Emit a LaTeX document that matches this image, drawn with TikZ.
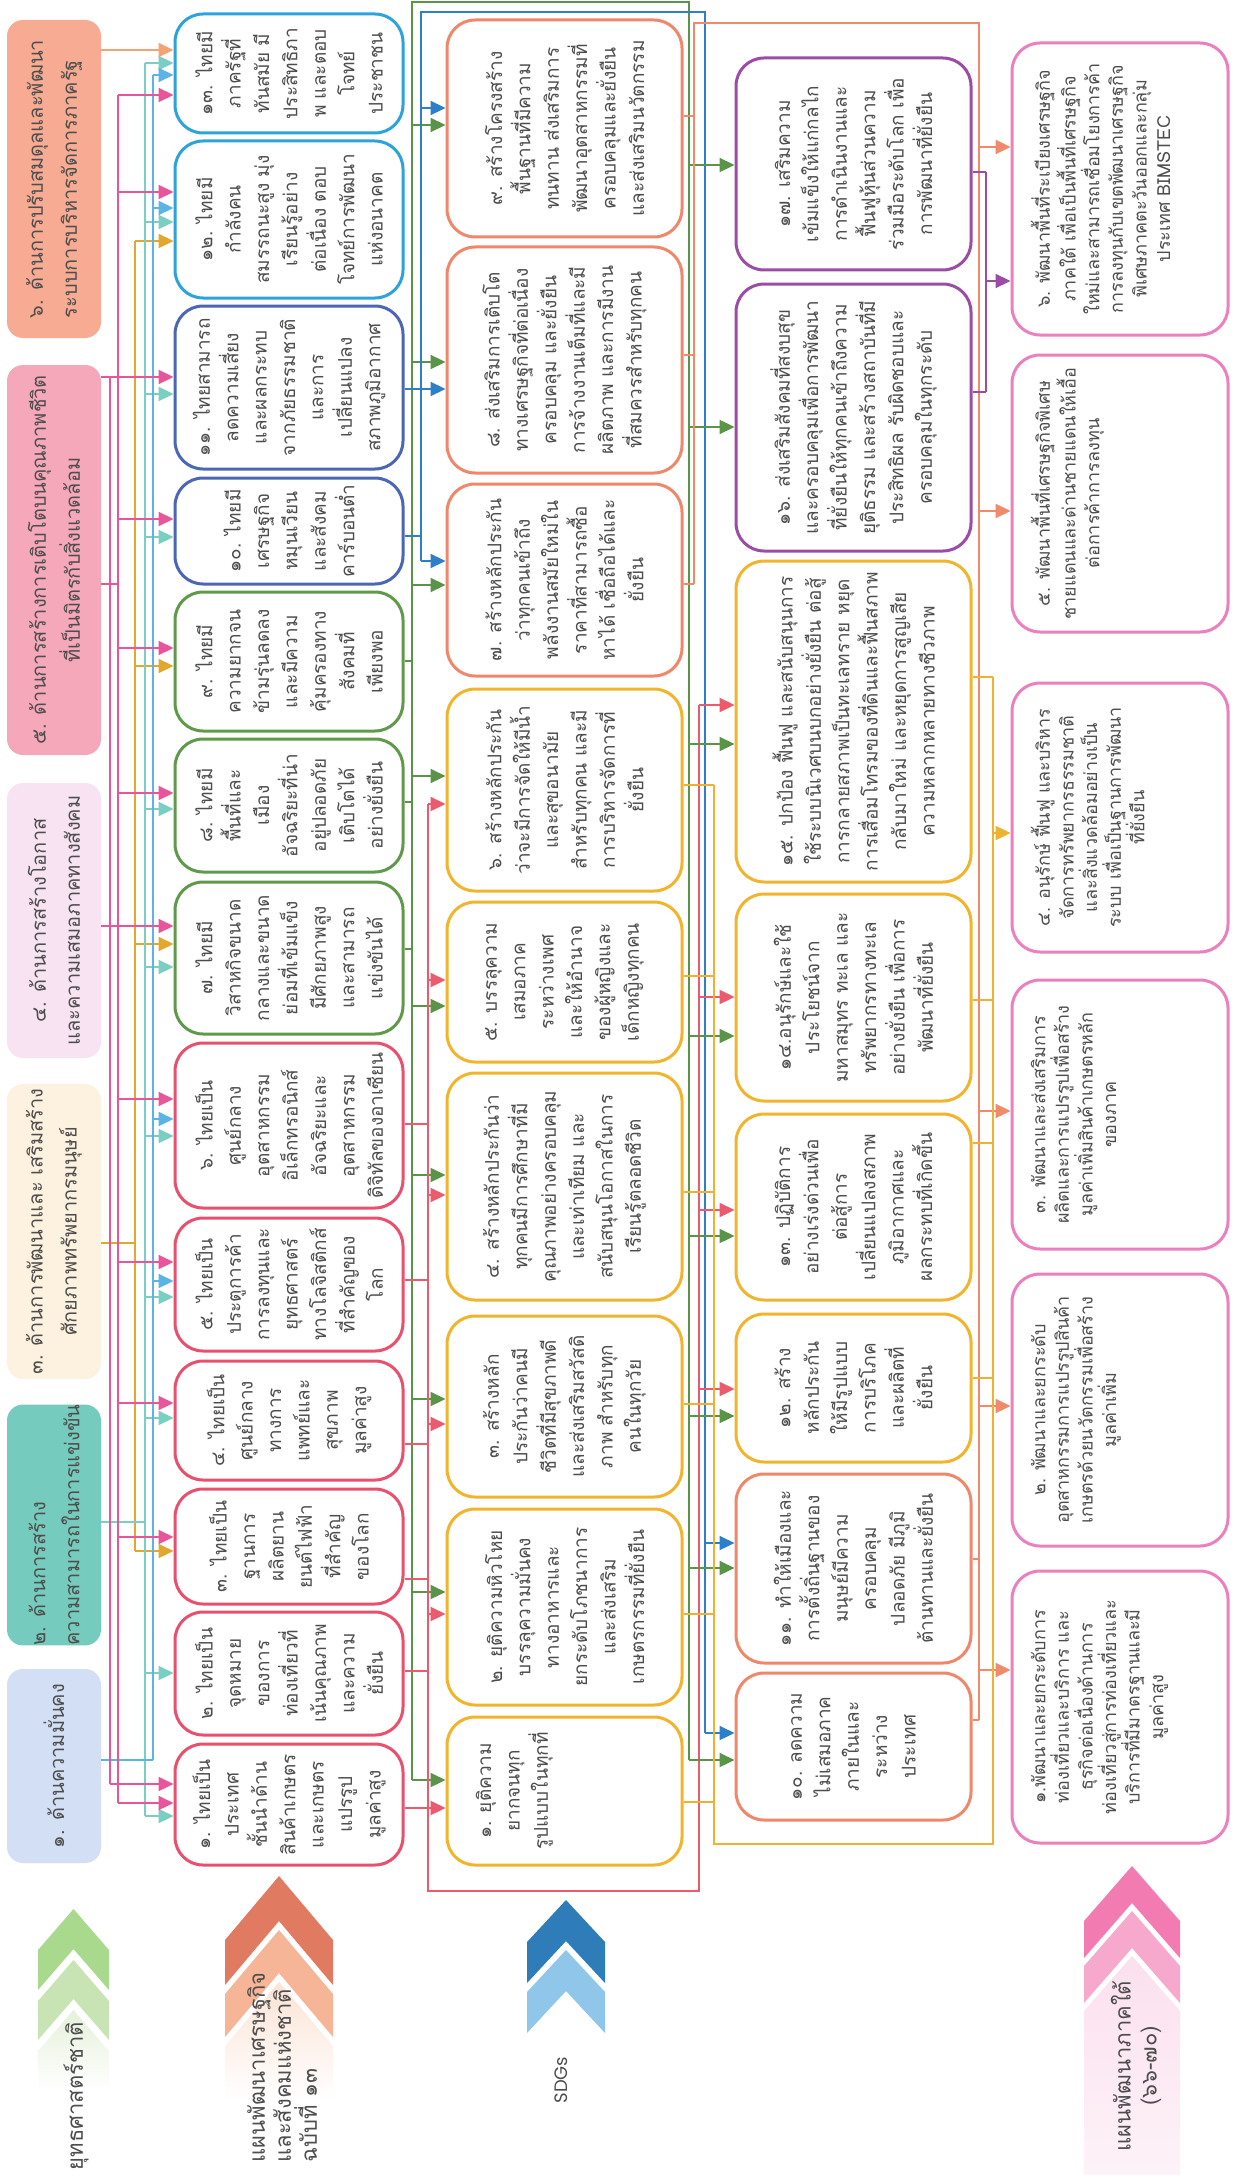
\documentclass[tikz,border=0pt]{standalone}
\usepackage{fontspec}
\setmainfont[Script=Thai]{Loma}
\newfontfamily\latf{Poppins}
\usetikzlibrary{arrows.meta,calc}
\definecolor{txt}{HTML}{4D4D4D}
\definecolor{fS6}{HTML}{F7AB92}
\definecolor{fS5}{HTML}{F5A8BA}
\definecolor{fS4}{HTML}{F8E3F3}
\definecolor{fS3}{HTML}{FDF2DF}
\definecolor{fS2}{HTML}{75CBBD}
\definecolor{fS1}{HTML}{D3DFF5}
\definecolor{bCy}{HTML}{2CA3DB}
\definecolor{bIn}{HTML}{4A66B5}
\definecolor{bGr}{HTML}{5E9A4A}
\definecolor{bRd}{HTML}{E8506E}
\definecolor{bCo}{HTML}{F0876A}
\definecolor{bYe}{HTML}{F2B42A}
\definecolor{bPu}{HTML}{9B4DA6}
\definecolor{bPk}{HTML}{EC7FBD}
\definecolor{lOr}{HTML}{F4A472}
\definecolor{lYe}{HTML}{E4A72E}
\definecolor{lTe}{HTML}{79D0C2}
\definecolor{lLb}{HTML}{5AB4E6}
\definecolor{lPk}{HTML}{E9559A}
\definecolor{lGr}{HTML}{5A9448}
\definecolor{lBl}{HTML}{2E7FC9}
\definecolor{lRd}{HTML}{EC5A6E}
\definecolor{lCo}{HTML}{F08A6A}
\definecolor{lYb}{HTML}{F0B030}
\definecolor{lPu}{HTML}{9B4DA6}
\definecolor{gc1}{HTML}{A9D98C}
\definecolor{gc2}{HTML}{C8E4B4}
\definecolor{gc3}{HTML}{E5F1DB}
\definecolor{oc1}{HTML}{E07B62}
\definecolor{oc2}{HTML}{F6B596}
\definecolor{oc3}{HTML}{FBE3D6}
\definecolor{bc1}{HTML}{2E7DB8}
\definecolor{bc2}{HTML}{8FC6EA}
\definecolor{pc1}{HTML}{F27CB2}
\definecolor{pc2}{HTML}{F6A8CD}
\definecolor{pc3}{HTML}{FBE0EE}
% box: name, style, x1, y1, x2, y2, text
\newcommand\Bx[7]{\node[#2, rotate=90, minimum width={0.5pt*(#6-#4)}, minimum height={0.5pt*(#5-#3)}] (#1) at ({(#3+#5)/2},{(#4+#6)/2}) {#7};}
% arrow from bus x at y into left side of node
\newcommand\Ar[4]{\draw[ar,#1] (#2,#3) -- (#2,#3 -| #4.north);}
% stub from right side of node at y to bus x
\newcommand\St[4]{\draw[ln,#1] (#4.south |- 0,#3) -- (#2,#3);}
% chevron: colour, xl, xr, tip, shoulder, bottom, notch
\newcommand\Chev[7]{\fill[#1] ({(#2+#3)/2},#4) -- (#3,#5) -- (#3,#6) -- ({(#2+#3)/2},#7) -- (#2,#6) -- (#2,#5) -- cycle;}
\begin{document}
\begin{tikzpicture}[x=0.5pt,y=-0.5pt,
  sbox/.style={fill=#1, rounded corners=8pt, inner sep=0pt, text=txt, align=center, font=\fontsize{10}{17}\selectfont},
  nb/.style={draw=#1, line width=1.5pt, fill=white, rounded corners=14pt, inner sep=0pt, text=txt, align=center, font=\fontsize{9.5}{14.2}\selectfont},
  ntxt/.style={text=txt, align=center, inner sep=0pt, font=\fontsize{9.5}{14.2}\selectfont},
  pb/.style={draw=bPk, line width=1.5pt, fill=white, rounded corners=14pt, inner sep=0pt},
  ptxt/.style={text=txt, align=center, inner sep=0pt, font=\fontsize{9}{11.8}\selectfont},
  ln/.style={line width=1.1pt},
  ar/.style={line width=1.1pt, -{Triangle[length=7.5pt,width=7pt]}},
  lab/.style={text=txt, inner sep=0pt, font=\fontsize{11}{13}\selectfont}]
\fill[white] (0,0) rectangle (1247,2178);
\useasboundingbox (0,0) rectangle (1247,2178);

% ---------- column 1: national strategy ----------
\Bx{s6}{sbox=fS6,align=left}{7}{20}{101}{338}{๖. ด้านการปรับสมดุลและพัฒนา\\ระบบการบริหารจัดการภาครัฐ}
\Bx{s5}{sbox=fS5}{7}{365}{101}{755}{๕. ด้านการสร้างการเติบโตบนคุณภาพชีวิต\\ที่เป็นมิตรกับสิ่งแวดล้อม}
\Bx{s4}{sbox=fS4}{7}{783}{101}{1058}{๔. ด้านการสร้างโอกาส\\และความเสมอภาคทางสังคม}
\Bx{s3}{sbox=fS3}{7}{1084}{101}{1379}{๓. ด้านการพัฒนาและ เสริมสร้าง\\ศักยภาพทรัพยากรมนุษย์}
\Bx{s2}{sbox=fS2,align=left}{7}{1408}{101}{1642}{๒. ด้านการสร้าง\\ความสามารถในการแข่งขัน}
\Bx{s1}{sbox=fS1}{7}{1669}{101}{1863}{๑. ด้านความมั่นคง}

% ---------- column 2: NESDP 13 ----------
\Bx{c13}{nb=bCy}{175}{14}{403}{133}{๑๓. ไทยมี\\ภาครัฐที่\\ทันสมัย มี\\ประสิทธิภา\\พ และตอบ\\โจทย์\\ประชาชน}
\Bx{c12}{nb=bCy}{175}{141}{403}{298}{๑๒. ไทยมี\\กำลังคน\\สมรรถนะสูง มุ่ง\\เรียนรู้อย่าง\\ต่อเนื่อง ตอบ\\โจทย์การพัฒนา\\แห่งอนาคต}
\Bx{c11}{nb=bIn}{175}{306}{403}{469}{๑๑. ไทยสามารถ\\ลดความเสี่ยง\\และผลกระทบ\\จากภัยธรรมชาติ\\และการ\\เปลี่ยนแปลง\\สภาพภูมิอากาศ}
\Bx{c10}{nb=bIn}{175}{478}{403}{584}{๑๐. ไทยมี\\เศรษฐกิจ\\หมุนเวียน\\และสังคม\\คาร์บอนต่ำ}
\Bx{c9}{nb=bGr}{175}{592}{403}{731}{๙. ไทยมี\\ความยากจน\\ข้ามรุ่นลดลง\\และมีความ\\คุ้มครองทาง\\สังคมที่\\เพียงพอ}
\Bx{c8}{nb=bGr}{175}{739}{403}{872}{๘. ไทยมี\\พื้นที่และ\\เมือง\\อัจฉริยะที่น่า\\อยู่ปลอดภัย\\เติบโตได้\\อย่างยั่งยืน}
\Bx{c7}{nb=bGr}{175}{882}{403}{1034}{๗. ไทยมี\\วิสาหกิจขนาด\\กลางและขนาด\\ย่อมที่เข้มแข็ง\\มีศักยภาพสูง\\และสามารถ\\แข่งขันได้}
\Bx{c6}{nb=bRd}{175}{1043}{403}{1208}{๖. ไทยเป็น\\ศูนย์กลาง\\อุตสาหกรรม\\อิเล็กทรอนิกส์\\อัจฉริยะและ\\อุตสาหกรรม\\ดิจิทัลของอาเซียน}
\Bx{c5}{nb=bRd}{175}{1218}{403}{1351}{๕. ไทยเป็น\\ประตูการค้า\\การลงทุนและ\\ยุทธศาสตร์\\ทางโลจิสติกส์\\ที่สำคัญของ\\โลก}
\Bx{c4}{nb=bRd}{175}{1361}{403}{1480}{๔. ไทยเป็น\\ศูนย์กลาง\\ทางการ\\แพทย์และ\\สุขภาพ\\มูลค่าสูง}
\Bx{c3}{nb=bRd}{175}{1489}{403}{1604}{๓. ไทยเป็น\\ฐานการ\\ผลิตยาน\\ยนต์ไฟฟ้า\\ที่สำคัญ\\ของโลก}
\Bx{c2}{nb=bRd}{175}{1612}{403}{1735}{๒. ไทยเป็น\\จุดหมาย\\ของการ\\ท่องเที่ยวที่\\เน้นคุณภาพ\\และความ\\ยั่งยืน}
\Bx{c1}{nb=bRd}{175}{1744}{403}{1865}{๑. ไทยเป็น\\ประเทศ\\ชั้นนำด้าน\\สินค้าเกษตร\\และเกษตร\\แปรรูป\\มูลค่าสูง}

% ---------- column 3: SDGs 1-9 ----------
\Bx{g9}{nb=bCo}{447}{20}{682}{237}{๙. สร้างโครงสร้าง\\พื้นฐานที่มีความ\\ทนทาน ส่งเสริมการ\\พัฒนาอุตสาหกรรมที่\\ครอบคลุมและยั่งยืน\\และส่งเสริมนวัตกรรม}
\Bx{g8}{nb=bCo}{447}{247}{682}{473}{๘. ส่งเสริมการเติบโต\\ทางเศรษฐกิจที่ต่อเนื่อง\\ครอบคลุม และยั่งยืน\\การจ้างงานเต็มที่และมี\\ผลิตภาพ และการมีงาน\\ที่สมควรสำหรับทุกคน}
\Bx{g7}{nb=bCo}{447}{484}{682}{676}{๗. สร้างหลักประกัน\\ว่าทุกคนเข้าถึง\\พลังงานสมัยใหม่ใน\\ราคาที่สามารถซื้อ\\หาได้ เชื่อถือได้และ\\ยั่งยืน}
\Bx{g6}{nb=bYe}{447}{689}{682}{891}{๖. สร้างหลักประกัน\\ว่าจะมีการจัดให้มีน้ำ\\และสุขอนามัย\\สำหรับทุกคน และมี\\การบริหารจัดการที่\\ยั่งยืน}
\Bx{g5}{nb=bYe}{447}{902}{682}{1062}{๕. บรรลุความ\\เสมอภาค\\ระหว่างเพศ\\และให้อำนาจ\\ของผู้หญิงและ\\เด็กหญิงทุกคน}
\Bx{g4}{nb=bYe}{447}{1073}{682}{1300}{๔. สร้างหลักประกันว่า\\ทุกคนมีการศึกษาที่มี\\คุณภาพอย่างครอบคลุม\\และเท่าเทียม และ\\สนับสนุนโอกาสในการ\\เรียนรู้ตลอดชีวิต}
\Bx{g3}{nb=bYe}{447}{1316}{682}{1497}{๓. สร้างหลัก\\ประกันว่าคนมี\\ชีวิตที่มีสุขภาพดี\\และส่งเสริมสวัสดิ\\ภาพ สำหรับทุก\\คนในทุกวัย}
\Bx{g2}{nb=bYe}{447}{1509}{682}{1705}{๒. ยุติความหิวโหย\\บรรลุความมั่นคง\\ทางอาหารและ\\ยกระดับโภชนาการ\\และส่งเสริม\\เกษตรกรรมที่ยั่งยืน}
\Bx{g1}{nb=bYe}{447}{1717}{682}{1865}{}
\node[ntxt, rotate=90, anchor=north] (g1t) at ($(g1.north)+(30,0)$) {๑. ยุติความ\\ยากจนทุก\\รูปแบบในทุกที่};

% ---------- column 4: SDGs 10-17 ----------
\Bx{g17}{nb=bPu}{736}{58}{971}{270}{๑๗. เสริมความ\\เข้มแข็งให้แก่กลไก\\การดำเนินงานและ\\ฟื้นฟูหุ้นส่วนความ\\ร่วมมือระดับโลก เพื่อ\\การพัฒนาที่ยั่งยืน}
\Bx{g16}{nb=bPu}{736}{284}{971}{551}{๑๖. ส่งเสริมสังคมที่สงบสุข\\และครอบคลุมเพื่อการพัฒนา\\ที่ยั่งยืนให้ทุกคนเข้าถึงความ\\ยุติธรรม และสร้างสถาบันที่มี\\ประสิทธิผล รับผิดชอบและ\\ครอบคลุมในทุกระดับ}
\Bx{g15}{nb=bYe}{736}{561}{971}{882}{๑๕. ปกป้อง ฟื้นฟู และสนับสนุนการ\\ใช้ระบบนิเวศบนบกอย่างยั่งยืน ต่อสู้\\การกลายสภาพเป็นทะเลทราย หยุด\\การเสื่อมโทรมของที่ดินและฟื้นสภาพ\\กลับมาใหม่ และหยุดการสูญเสีย\\ความหลากหลายทางชีวภาพ}
\Bx{g14}{nb=bYe}{736}{894}{971}{1101}{๑๔.อนุรักษ์และใช้\\ประโยชน์จาก\\มหาสมุทร ทะเล และ\\ทรัพยากรทางทะเล\\อย่างยั่งยืน เพื่อการ\\พัฒนาที่ยั่งยืน}
\Bx{g13}{nb=bYe}{736}{1114}{971}{1300}{๑๓. ปฏิบัติการ\\อย่างเร่งด่วนเพื่อ\\ต่อสู้การ\\เปลี่ยนแปลงสภาพ\\ภูมิอากาศและ\\ผลกระทบที่เกิดขึ้น}
\Bx{g12}{nb=bYe}{736}{1314}{971}{1462}{๑๒. สร้าง\\หลักประกัน\\ให้มีรูปแบบ\\การบริโภค\\และผลิตที่\\ยั่งยืน}
\Bx{g11}{nb=bCo}{736}{1474}{971}{1663}{๑๑. ทำให้เมืองและ\\การตั้งถิ่นฐานของ\\มนุษย์มีความ\\ครอบคลุม\\ปลอดภัย มีภูมิ\\ต้านทานและยั่งยืน}
\Bx{g10}{nb=bCo}{736}{1673}{971}{1820}{๑๐. ลดความ\\ไม่เสมอภาค\\ภายในและ\\ระหว่าง\\ประเทศ}

% ---------- column 5: southern plan ----------
\Bx{p6}{pb}{1012}{43}{1228}{335}{}
\node[ptxt, rotate=90, anchor=north] (p6t) at ($(p6.north)+(20,0)$) {๖. พัฒนาพื้นที่ระเบียงเศรษฐกิจ\\ภาคใต้ เพื่อเป็นพื้นที่เศรษฐกิจ\\ใหม่และสามารถเชื่อมโยงการค้า\\การลงทุนกับเขตพัฒนาเศรษฐกิจ\\พิเศษภาคตะวันออกและกลุ่ม\\ประเทศ BIMSTEC};
\Bx{p5}{pb}{1012}{355}{1228}{632}{}
\node[ptxt, rotate=90, anchor=north] (p5t) at ($(p5.north)+(20,0)$) {๕. พัฒนาพื้นที่เศรษฐกิจพิเศษ\\ชายแดนและด่านชายแดนให้เอื้อ\\ต่อการค้าการลงทุน};
\Bx{p4}{pb}{1012}{683}{1228}{952}{}
\node[ptxt, rotate=90, anchor=north] (p4t) at ($(p4.north)+(20,0)$) {๔. อนุรักษ์ ฟื้นฟู และบริหาร\\จัดการทรัพยากรธรรมชาติ\\และสิ่งแวดล้อมอย่างเป็น\\ระบบ เพื่อเป็นฐานการพัฒนา\\ที่ยั่งยืน};
\Bx{p3}{pb}{1012}{980}{1228}{1249}{}
\node[ptxt, rotate=90, anchor=north] (p3t) at ($(p3.north)+(20,0)$) {๓. พัฒนาและส่งเสริมการ\\ผลิตและการแปรรูปเพื่อสร้าง\\มูลค่าเพิ่มสินค้าเกษตรหลัก\\ของภาค};
\Bx{p2}{pb}{1012}{1274}{1228}{1546}{}
\node[ptxt, rotate=90, anchor=north] (p2t) at ($(p2.north)+(20,0)$) {๒. พัฒนาและยกระดับ\\อุตสาหกรรมการแปรรูปสินค้า\\เกษตรด้วยนวัตกรรมเพื่อสร้าง\\มูลค่าเพิ่ม};
\Bx{p1}{pb}{1012}{1571}{1228}{1843}{}
\node[ptxt, rotate=90, anchor=north] (p1t) at ($(p1.north)+(20,0)$) {๑.พัฒนาและยกระดับการ\\ท่องเที่ยวและบริการ และ\\ธุรกิจต่อเนื่องด้านการ\\ท่องเที่ยวสู่การท่องเที่ยวและ\\บริการที่มีมาตรฐานและมี\\มูลค่าสูง};

% ---------- connectors: strategy -> NESDP ----------
\draw[ar,lOr] (s6.south |- 0,50) -- (0,50 -| c13.north);
% yellow
\draw[ln,lYe] (s3.south |- 0,1243) -- (135,1243);
\draw[ln,lYe] (135,241) -- (135,1551);
\Ar{lYe}{135}{241}{c12}\Ar{lYe}{135}{666}{c9}\Ar{lYe}{135}{944}{c7}\Ar{lYe}{135}{1551}{c3}
% teal
\draw[ln,lTe] (s2.south |- 0,1522) -- (145,1522);
\draw[ln,lTe] (145,63) -- (145,1816);
\Ar{lTe}{145}{63}{c13}\Ar{lTe}{145}{222}{c12}\Ar{lTe}{145}{394}{c11}\Ar{lTe}{145}{537}{c10}
\Ar{lTe}{145}{809}{c8}\Ar{lTe}{145}{967}{c7}\Ar{lTe}{145}{1136}{c6}\Ar{lTe}{145}{1297}{c5}
\Ar{lTe}{145}{1418}{c4}\Ar{lTe}{145}{1673}{c2}\Ar{lTe}{145}{1816}{c1}
% light blue
\draw[ln,lLb] (s1.south |- 0,1760) -- (153,1760);
\draw[ln,lLb] (153,75) -- (153,1760);
\Ar{lLb}{153}{75}{c13}\Ar{lLb}{153}{208}{c12}\Ar{lLb}{153}{1119}{c6}\Ar{lLb}{153}{1281}{c5}
% pink
\draw[ln,lPk] (s5.south |- 0,584) -- (118,584);
\draw[ln,lPk] (110,377) -- (110,1784);
\draw[ln,lPk] (118,95) -- (118,1803);
\draw[ar,lPk] (s5.south |- 0,377) -- (0,377 -| c11.north);
\draw[ar,lPk] (s4.south |- 0,926) -- (0,926 -| c7.north);
\Ar{lPk}{118}{95}{c13}\Ar{lPk}{118}{192}{c12}\Ar{lPk}{118}{519}{c10}\Ar{lPk}{118}{648}{c9}
\Ar{lPk}{118}{793}{c8}\Ar{lPk}{118}{1099}{c6}\Ar{lPk}{118}{1262}{c5}\Ar{lPk}{118}{1403}{c4}
\Ar{lPk}{118}{1537}{c3}\Ar{lPk}{118}{1803}{c1}\Ar{lPk}{110}{1784}{c1}

% ---------- connectors: NESDP -> SDGs ----------
% green bus
\draw[ln,lGr] (689,1760) -- (689,2) -- (412,2) -- (412,1780);
\St{lGr}{412}{661}{c9}\St{lGr}{412}{802}{c8}\St{lGr}{412}{949}{c7}
\Ar{lGr}{412}{125}{g9}\Ar{lGr}{412}{362}{g8}\Ar{lGr}{412}{585}{g7}\Ar{lGr}{412}{776}{g6}
\Ar{lGr}{412}{1006}{g5}\Ar{lGr}{412}{1175}{g4}\Ar{lGr}{412}{1399}{g3}\Ar{lGr}{412}{1592}{g2}\Ar{lGr}{412}{1780}{g1}
% blue bus
\draw[ln,lBl] (705,1733) -- (705,12) -- (421,12) -- (421,561);
\St{lBl}{421}{389}{c11}\St{lBl}{421}{536}{c10}
\Ar{lBl}{421}{108}{g9}\Ar{lBl}{421}{389}{g8}\Ar{lBl}{421}{561}{g7}
% red bus
\draw[ln,lRd] (699,705) -- (699,1891) -- (428,1891) -- (428,804);
\St{lRd}{428}{1124}{c6}\St{lRd}{428}{1280}{c5}\St{lRd}{428}{1444}{c4}
\St{lRd}{428}{1579}{c3}\St{lRd}{428}{1671}{c2}\St{lRd}{428}{1808}{c1}
\Ar{lRd}{428}{804}{g6}\Ar{lRd}{428}{980}{g5}\Ar{lRd}{428}{1195}{g4}
\Ar{lRd}{428}{1424}{g3}\Ar{lRd}{428}{1614}{g2}\Ar{lRd}{428}{1808}{g1}

% ---------- connectors: SDGs -> SDGs 10-17 ----------
\Ar{lGr}{689}{165}{g17}\Ar{lGr}{689}{427}{g16}\Ar{lGr}{689}{744}{g15}\Ar{lGr}{689}{1036}{g14}
\Ar{lGr}{689}{1236}{g13}\Ar{lGr}{689}{1416}{g12}\Ar{lGr}{689}{1568}{g11}\Ar{lGr}{689}{1760}{g10}
\Ar{lBl}{705}{1543}{g11}\Ar{lBl}{705}{1733}{g10}
\Ar{lRd}{699}{705}{g15}\Ar{lRd}{699}{997}{g14}\Ar{lRd}{699}{1210}{g13}\Ar{lRd}{699}{1389}{g12}

% ---------- connectors: SDGs -> southern plan ----------
% orange bus
\draw[ln,lCo] (694,584) -- (694,23) -- (979,23) -- (979,1720);
\St{lCo}{694}{116}{g9}\St{lCo}{694}{355}{g8}\St{lCo}{694}{584}{g7}
\St{lCo}{979}{1559}{g11}\St{lCo}{979}{1720}{g10}
\Ar{lCo}{979}{147}{p6}\Ar{lCo}{979}{511}{p5}\Ar{lCo}{979}{1111}{p3}\Ar{lCo}{979}{1406}{p2}\Ar{lCo}{979}{1670}{p1}
% yellow bus
\draw[ln,lYb] (714,785) -- (714,1844) -- (993,1844) -- (993,677);
\St{lYb}{714}{785}{g6}\St{lYb}{714}{976}{g5}\St{lYb}{714}{1192}{g4}
\St{lYb}{714}{1404}{g3}\St{lYb}{714}{1614}{g2}\St{lYb}{714}{1802}{g1}
\St{lYb}{993}{677}{g15}\St{lYb}{993}{1000}{g14}\St{lYb}{993}{1143}{g13}\St{lYb}{993}{1378}{g12}
\Ar{lYb}{993}{833}{p4}
% purple bus
\draw[ln,lPu] (986,172) -- (986,392);
\St{lPu}{986}{172}{g17}\St{lPu}{986}{392}{g16}
\Ar{lPu}{986}{281}{p6}

% ---------- legend chevrons and labels ----------
\Chev{gc1}{38}{109}{1909}{1950}{1990}{1949}
\Chev{gc2}{38}{109}{1960}{2001}{2040}{1999}
\shade[top color=gc3, bottom color=white] (73.5,2010) -- (109,2051) -- (109,2090) -- (38,2090) -- (38,2051) -- cycle;
\Chev{oc1}{225}{333}{1876}{1940}{1985}{1921}
\Chev{oc2}{225}{333}{1930}{1994}{2037}{1973}
\shade[top color=oc3, bottom color=white] (279,1982) -- (333,2046) -- (333,2100) -- (225,2100) -- (225,2046) -- cycle;
\Chev{bc1}{527}{605}{1900}{1942}{1983}{1941}
\Chev{bc2}{527}{605}{1950}{1992}{2033}{1991}
\Chev{pc1}{1084}{1180}{1866}{1921}{1958}{1903}
\Chev{pc2}{1084}{1180}{1911}{1966}{2003}{1948}
\shade[top color=pc3, bottom color=pc3!40] (1132,1956) -- (1180,2011) -- (1180,2175) -- (1084,2175) -- (1084,2011) -- cycle;

\node[lab, rotate=90] (lab1) at (76,2096) {ยุทธศาสตร์ชาติ};
\node[lab, rotate=90, align=left, anchor=west] (lab2) at (282,2163) {แผนพัฒนาเศรษฐกิจ\\และสังคมแห่งชาติ\\ฉบับที่ ๑๓};
\node[text=txt, inner sep=0pt, rotate=90, font=\latf\fontsize{9}{10}\selectfont] (lab3) at (561,2080) {SDGs};
\node[lab, rotate=90, align=center] (lab4) at (1136,2066) {แผนพัฒนาภาคใต้\\(๖๖-๗๐)};
\end{tikzpicture}
\end{document}
